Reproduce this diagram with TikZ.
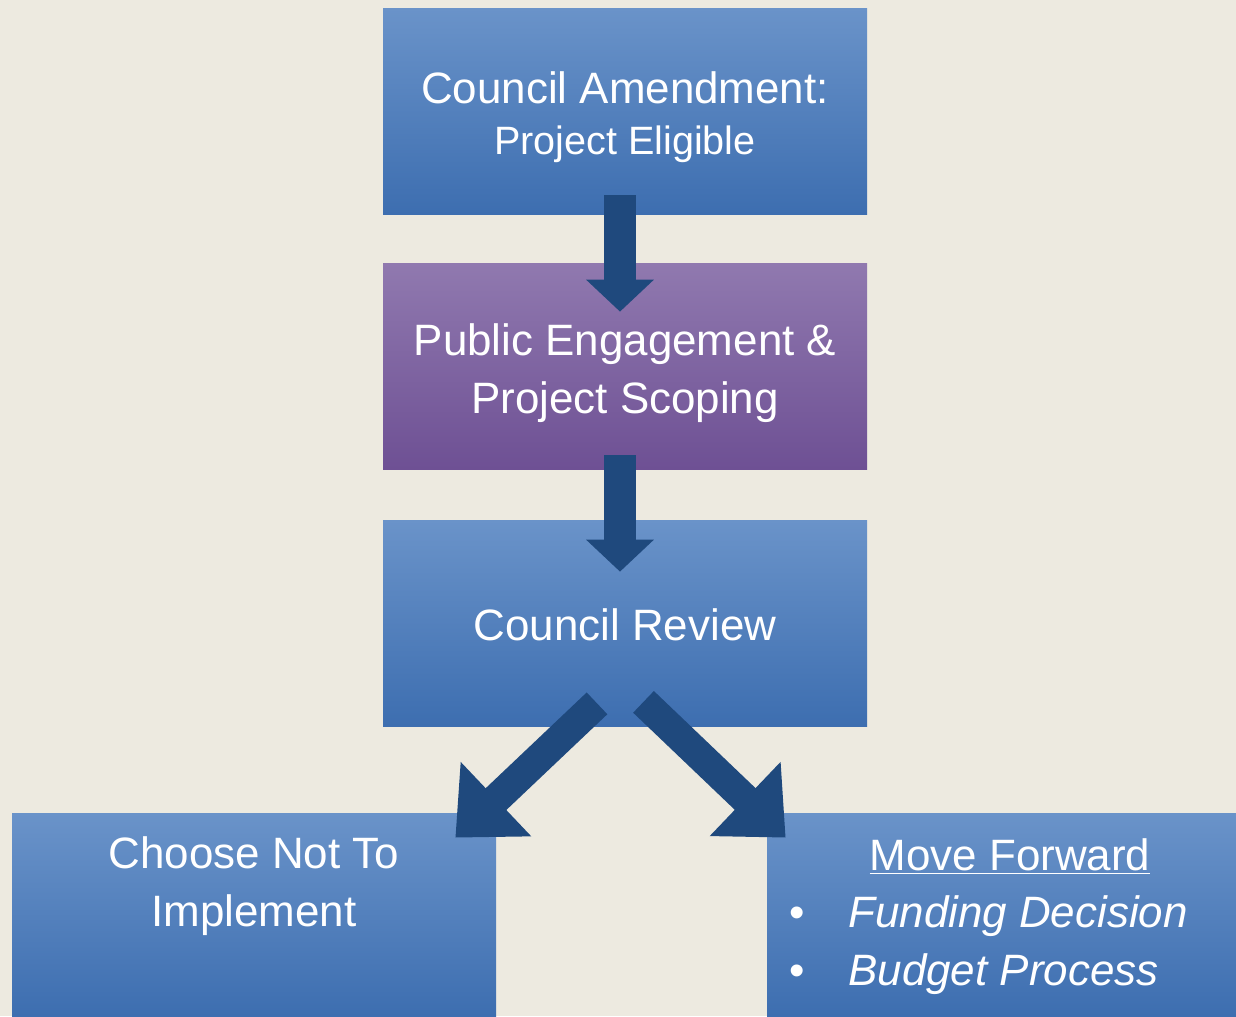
\documentclass[tikz,border=0pt]{standalone}
\usepackage{fontspec}
\setmainfont{Liberation Sans}
\usetikzlibrary{arrows.meta}
\usetikzlibrary{calc}
\usetikzlibrary{positioning}
\definecolor{paper}{HTML}{EDEAE0}
\definecolor{bluetop}{HTML}{6A93C9}
\definecolor{bluebot}{HTML}{3D6EB0}
\definecolor{purptop}{HTML}{9079AF}
\definecolor{purpbot}{HTML}{6E5094}
\definecolor{arrowblue}{HTML}{1F497D}
\tikzset{
	box/.style={rectangle,inner sep=0pt,minimum width=9.68cm,minimum height=4.12cm,top color=bluetop,bottom color=bluebot},
	label/.style={text=white,align=center,inner sep=0pt,font=\fontsize{25}{33}\selectfont},
	downarrow/.style={arrowblue,line width=0.64cm,-{Triangle[width=1.32cm,length=0.64cm]}},
	sidearrow/.style={arrowblue,line width=0.6cm,-{Triangle[width=1.98cm,length=1.12cm]}}
}

\begin{document}
\begin{tikzpicture}
		\fill [paper] (0,0) rectangle (24.72,-20.32);
		\useasboundingbox (0,0) rectangle (24.72,-20.32);

		\node [box] (amend) at (12.5,-2.22) {};
		\node [box,top color=purptop,bottom color=purpbot] (engage) at (12.5,-7.32) {};
		\node [box] (review) at (12.5,-12.46) {};
		\node [box,minimum height=4.06cm] (skip) at (5.08,-18.29) {};
		\node [box,minimum width=9.38cm,minimum height=4.06cm] (forward) at (20.03,-18.29) {};

		\draw [downarrow] ($(amend.south)+(-0.1,0.38)$) -- ($(engage.north)+(-0.1,-0.98)$);
		\draw [downarrow] ($(engage.south)+(-0.1,0.28)$) -- ($(review.north)+(-0.1,-1.04)$);
		\draw [sidearrow] ($(review.south)+(-0.56,0.46)$) -- ($(skip.north east)+(-0.82,-0.5)$);
		\draw [sidearrow] ($(review.south)+(0.37,0.49)$) -- ($(forward.north west)+(0.38,-0.5)$);

		\node [label] (amendtext) at (12.5,-2.34) {Council Amendment:\\[-4pt]{\fontsize{22.5}{27}\selectfont Project Eligible}};
		\node [label] (engagetext) at (12.5,-7.46) {Public Engagement \&\\Project Scoping};
		\node [label] (reviewtext) at (12.5,-12.5) {Council Review};
		\node [label] (skiptext) at (5.08,-17.72) {Choose Not To\\Implement};
		\node [label,anchor=base] (forwardhead) at (20.2,-17.4) {\underline{Move Forward}};
		\node [label,align=left,anchor=north west] (forwardlist) at (15.78,-17.9) {\makebox[1.18cm][l]{\textbullet}\textit{Funding Decision}\\\makebox[1.18cm][l]{\textbullet}\textit{Budget Process}};
	\end{tikzpicture}
\end{document}
